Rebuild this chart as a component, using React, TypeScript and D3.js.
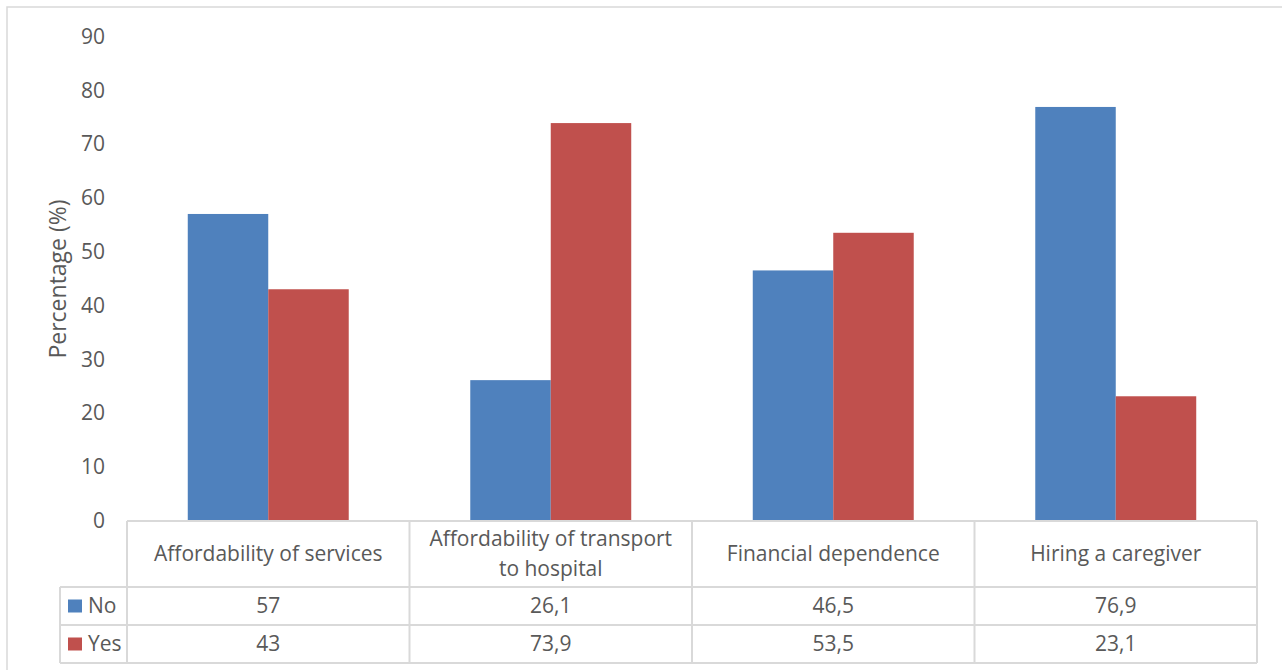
import React from "react";
import * as d3 from "d3";

// Chart data
const categories: string[][] = [
  ["Affordability of services"],
  ["Affordability of transport", "to hospital"],
  ["Financial dependence"],
  ["Hiring a caregiver"],
];
const seriesNames = ["No", "Yes"];
const noValues = [57, 26.1, 46.5, 76.9];
const yesValues = [43, 73.9, 53.5, 23.1];
const yTicks = [0, 10, 20, 30, 40, 50, 60, 70, 80, 90];
const seriesColors = ["#4F81BD", "#C0504D"];

const W = 1282;
const H = 670;
const FONT = "'Open Sans', 'Noto Sans', sans-serif";
const TEXT = "#595959";
const GRID = "#D9D9D9";
const FS = 21;

export default function App() {
  const plotLeft = 127;
  const plotRight = 1257;
  const y0 = 520.5;
  const yTop = 36.5;

  const keys = categories.map((c) => c.join(" "));
  const x0 = d3.scaleBand<string>().domain(keys).range([plotLeft, plotRight]).paddingInner(0).paddingOuter(0);
  const x1 = d3
    .scaleBand<string>()
    .domain(seriesNames)
    .range([0, x0.bandwidth()])
    .paddingInner(0)
    .paddingOuter(0.755);
  const y = d3.scaleLinear().domain([0, 90]).range([y0, yTop]);

  const values = [noValues, yesValues];

  const tableTop = 521;
  const catBottom = 587;
  const rowBottoms = [625, 663];
  const legendLeft = 60;

  const fmt = (v: number) => String(v).replace(".", ",");

  return (
    <svg
      width={W}
      height={H}
      style={{ position: "absolute", left: 0, top: 0, background: "#fff" }}
      fontFamily={FONT}
    >
      <rect x={0} y={0} width={W} height={H} fill="#fff" />
      {/* chart area border */}
      <rect x={7} y={7} width={W + 20} height={H + 20} fill="none" stroke={GRID} strokeWidth={1.5} />

      {/* y axis tick labels */}
      {yTicks.map((t) => (
        <text key={t} x={105} y={y(t)} dy="0.35em" textAnchor="end" fontSize={FS} fill={TEXT}>
          {t}
        </text>
      ))}
      <text
        transform={`translate(66, 279) rotate(-90)`}
        textAnchor="middle"
        fontSize={23}
        fill={TEXT}
      >
        Percentage (%)
      </text>

      {/* bars */}
      {keys.map((k, i) => (
        <g key={k} transform={`translate(${x0(k)},0)`}>
          {seriesNames.map((s, j) => (
            <rect
              key={s}
              x={x1(s)}
              y={y(values[j][i])}
              width={x1.bandwidth()}
              height={y0 - y(values[j][i])}
              fill={seriesColors[j]}
            />
          ))}
        </g>
      ))}

      {/* data table */}
      <g stroke={GRID} strokeWidth={2} fill="none">
        <line x1={plotLeft} x2={plotRight} y1={tableTop} y2={tableTop} />
        <line x1={legendLeft} x2={plotRight} y1={catBottom} y2={catBottom} />
        {rowBottoms.map((b) => (
          <line key={b} x1={legendLeft} x2={plotRight} y1={b} y2={b} />
        ))}
        <line x1={legendLeft} x2={legendLeft} y1={catBottom} y2={rowBottoms[1]} />
        {keys.map((k) => (
          <line key={k} x1={x0(k)} x2={x0(k)} y1={tableTop} y2={rowBottoms[1]} />
        ))}
        <line x1={plotRight} x2={plotRight} y1={tableTop} y2={rowBottoms[1]} />
      </g>

      {/* category labels */}
      {categories.map((lines, i) => {
        const cx = (x0(keys[i]) as number) + x0.bandwidth() / 2;
        const cy = (tableTop + catBottom) / 2;
        const lh = 30;
        return (
          <text key={i} textAnchor="middle" fontSize={FS} fill={TEXT}>
            {lines.map((ln, li) => (
              <tspan key={li} x={cx} y={cy + (li - (lines.length - 1) / 2) * lh} dy="0.35em">
                {ln}
              </tspan>
            ))}
          </text>
        );
      })}

      {/* series rows */}
      {seriesNames.map((s, j) => {
        const top = j === 0 ? catBottom : rowBottoms[0];
        const bottom = rowBottoms[j];
        const cy = (top + bottom) / 2;
        return (
          <g key={s}>
            <rect x={68} y={cy - 6.5} width={14} height={13} fill={seriesColors[j]} />
            <text x={88} y={cy} dy="0.35em" fontSize={FS} fill={TEXT}>
              {s}
            </text>
            {keys.map((k, i) => (
              <text
                key={k}
                x={(x0(k) as number) + x0.bandwidth() / 2}
                y={cy}
                dy="0.35em"
                textAnchor="middle"
                fontSize={FS}
                fill={TEXT}
              >
                {fmt(values[j][i])}
              </text>
            ))}
          </g>
        );
      })}
    </svg>
  );
}
